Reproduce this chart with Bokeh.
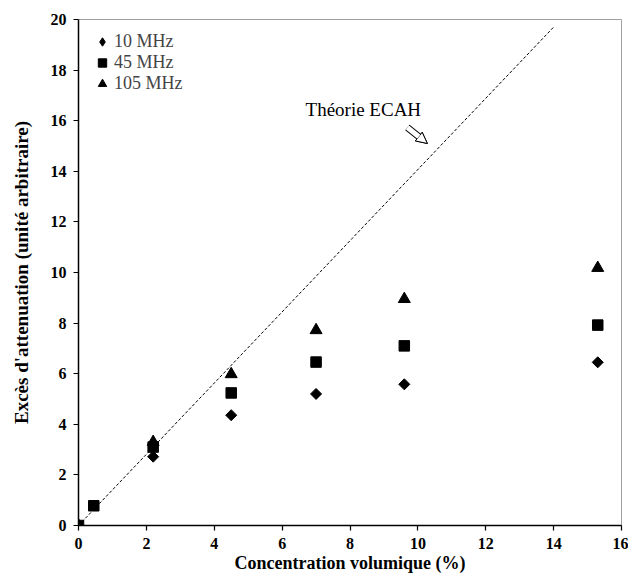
import numpy as np
from bokeh.plotting import figure
from bokeh.models import Range1d, Legend, LegendItem, Arrow, NormalHead, Label, FixedTicker
from bokeh.embed import file_html
from bokeh.resources import INLINE

nan = float("nan")

# Data
conc = [0.0, 0.45, 2.2, 4.5, 7.0, 9.6, 15.3]
att_10mhz = [0.0, nan, 2.72, 4.36, 5.2, 5.58, 6.45]
att_45mhz = [0.0, 0.78, 3.1, 5.24, 6.46, 7.1, 7.92]
att_105mhz = [0.0, nan, 3.3, 5.98, 7.72, 8.95, 10.18]
series_labels = ["10 MHz", "45 MHz", "105 MHz"]

theory_x = [0.0, 14.0]
theory_y = [0.0, 19.7]
theory_label = "Théorie ECAH"

x_ticks = [0, 2, 4, 6, 8, 10, 12, 14, 16]
y_ticks = [0, 2, 4, 6, 8, 10, 12, 14, 16, 18, 20]

FONT = "Liberation Serif"

p = figure(width=628, height=578, output_backend="svg", toolbar_location=None,
           x_range=Range1d(0, 16), y_range=Range1d(0, 20),
           min_border_left=78, min_border_right=7, min_border_top=19, min_border_bottom=53)

p.xgrid.visible = False
p.ygrid.visible = False
p.background_fill_color = "white"
p.outline_line_color = "#a0a0a0"
p.outline_line_width = 1

for ax in (p.xaxis[0], p.yaxis[0]):
    ax.axis_line_color = "black"
    ax.axis_line_width = 1.5
    ax.major_tick_line_color = "black"
    ax.major_tick_line_width = 1.2
    ax.major_tick_in = 0
    ax.major_tick_out = 5
    ax.minor_tick_line_color = None
    ax.major_label_text_font = FONT
    ax.major_label_text_font_style = "bold"
    ax.major_label_text_font_size = "16px"
    ax.major_label_text_color = "black"
    ax.axis_label_text_font = FONT
    ax.axis_label_text_font_style = "bold"
    ax.axis_label_text_color = "black"

p.xaxis.ticker = FixedTicker(ticks=x_ticks)
p.yaxis.ticker = FixedTicker(ticks=y_ticks)
p.xaxis.axis_label = "Concentration volumique (%)"
p.yaxis.axis_label = "Excès d'attenuation (unité arbitraire)"
p.xaxis.axis_label_text_font_size = "18px"
p.yaxis.axis_label_text_font_size = "19px"
p.xaxis.major_label_standoff = 7
p.xaxis.axis_label_standoff = 1
p.yaxis.major_label_standoff = 7
p.yaxis.axis_label_standoff = 16

# theory line
p.line(theory_x, theory_y, line_color="black", line_width=1, line_dash="3 2")

r10 = p.scatter(conc, att_10mhz, marker="square", angle=np.pi / 4, size=7.8,
                fill_color="black", line_color="black")
r45 = p.scatter(conc, att_45mhz, marker="square", size=10.5,
                fill_color="black", line_color="black")
r105 = p.scatter(conc, att_105mhz, marker="triangle", size=12,
                 fill_color="black", line_color="black")
# legend proxy for the diamond symbol (no visible points)
r10_key = p.scatter([nan], [nan], marker="diamond", size=10,
                    fill_color="black", line_color="black")

legend = Legend(items=[LegendItem(label=series_labels[0], renderers=[r10_key]),
                       LegendItem(label=series_labels[1], renderers=[r45]),
                       LegendItem(label=series_labels[2], renderers=[r105])],
                location=(13, 431), orientation="vertical",
                glyph_width=22, glyph_height=21, label_height=21, spacing=0,
                padding=9, margin=0, label_standoff=1,
                label_text_font=FONT, label_text_font_size="18px",
                background_fill_alpha=0, border_line_color=None)
p.add_layout(legend)

p.add_layout(Label(x=6.69, y=16.45, text=theory_label, text_font=FONT,
                   text_font_size="19px", text_color="black", text_baseline="alphabetic"))

arrow_tail = (9.69, 15.73)
arrow_tip = (10.28, 15.1)
p.add_layout(Arrow(end=NormalHead(size=11, fill_color="white", line_color="black", line_width=1),
                   x_start=arrow_tail[0], y_start=arrow_tail[1], x_end=arrow_tip[0], y_end=arrow_tip[1],
                   line_color="black", line_width=7))
p.add_layout(Arrow(end=NormalHead(size=11, fill_color="white", line_color="black", line_width=1),
                   x_start=arrow_tail[0], y_start=arrow_tail[1], x_end=arrow_tip[0], y_end=arrow_tip[1],
                   line_color="white", line_width=5))

open("out.html", "w").write(file_html(p, INLINE))
